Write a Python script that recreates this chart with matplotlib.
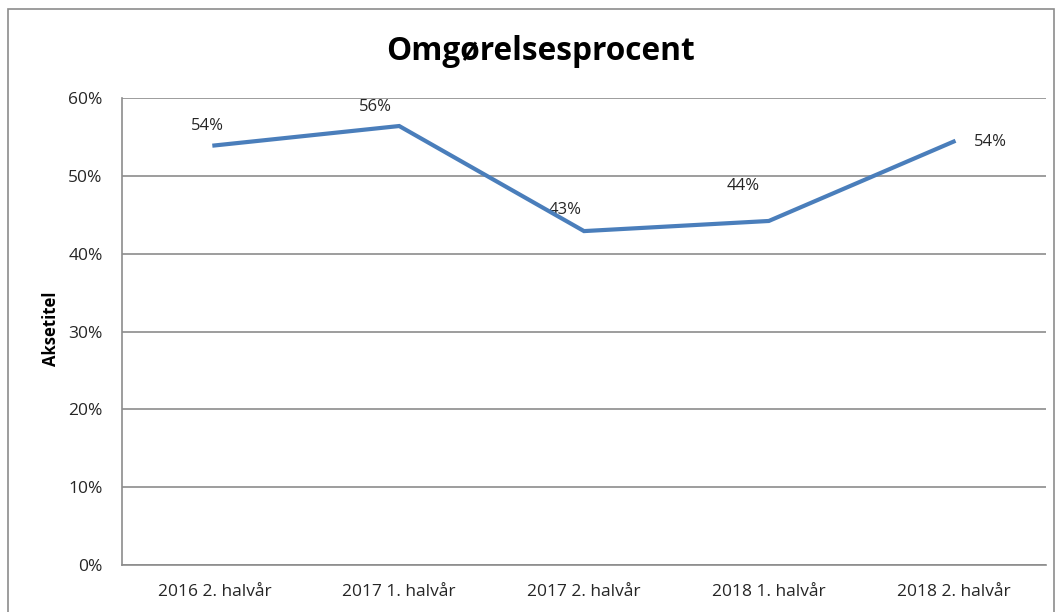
import matplotlib
matplotlib.use("Agg")
import matplotlib.pyplot as plt
from matplotlib.patches import Rectangle
from matplotlib.ticker import FuncFormatter

# data
perioder = ["2016 2. halvår", "2017 1. halvår", "2017 2. halvår", "2018 1. halvår", "2018 2. halvår"]
procent = [0.539, 0.564, 0.429, 0.442, 0.544]
etiketter = ["54%", "56%", "43%", "44%", "54%"]
# label offsets in pixels (dx, dy)
offsets = [(-7, 19), (-24, 19), (-19, 21), (-26, 35), (37, 0)]

plt.rcParams['font.family'] = ['Open Sans', 'DejaVu Sans']

fig = plt.figure(figsize=(10.58, 6.12), dpi=100)
fig.patch.set_facecolor("white")

# outer chart border
fig.patches.append(Rectangle((8 / 1058, -0.05), 1046 / 1058, (612 - 9) / 612 + 0.05,
                             transform=fig.transFigure, fill=False,
                             edgecolor="#8c8c8c", linewidth=1.2))

ax = fig.add_axes([122 / 1058, (612 - 565) / 612, 924 / 1058, 467 / 612])
x = list(range(len(perioder)))
ax.plot(x, procent, color="#4a7ebb", linewidth=3, solid_joinstyle="miter", zorder=3)

for xi, yi, lab, (dx, dy) in zip(x, procent, etiketter, offsets):
    ax.annotate(lab, (xi, yi), xytext=(dx * 0.72, dy * 0.72), textcoords="offset points",
                ha="center", va="center", fontsize=12, color="#262626", zorder=2)

ax.set_xlim(-0.5, len(perioder) - 0.5)
ax.set_ylim(0, 0.6)
ax.set_yticks([0, 0.1, 0.2, 0.3, 0.4, 0.5, 0.6])
ax.yaxis.set_major_formatter(FuncFormatter(lambda v, p: f"{v * 100:.0f}%"))
ax.set_xticks(x)
ax.set_xticklabels(perioder)
ax.tick_params(axis="both", length=0, labelsize=12.5, labelcolor="#262626")
ax.tick_params(axis="y", pad=14)
ax.tick_params(axis="x", pad=14)

ax.grid(axis="y", color="#8c8c8c", linewidth=1.2)
ax.set_axisbelow(True)
for side in ["top", "right"]:
    ax.spines[side].set_visible(False)
ax.spines["left"].set_color("#8c8c8c")
ax.spines["bottom"].set_color("#8c8c8c")
ax.spines["left"].set_linewidth(1.2)
ax.spines["bottom"].set_linewidth(1.2)

ax.set_ylabel("Aksetitel", fontsize=12, fontweight="bold", va="center")
ax.yaxis.set_label_coords(-(122 - 51) / 924, (565 - 329) / 467)
fig.text(540 / 1058, 1 - 51 / 612, "Omgørelsesprocent", ha="center", va="center",
         fontsize=22.8, fontweight="bold", color="black")

fig.savefig("out.png", dpi=100)
